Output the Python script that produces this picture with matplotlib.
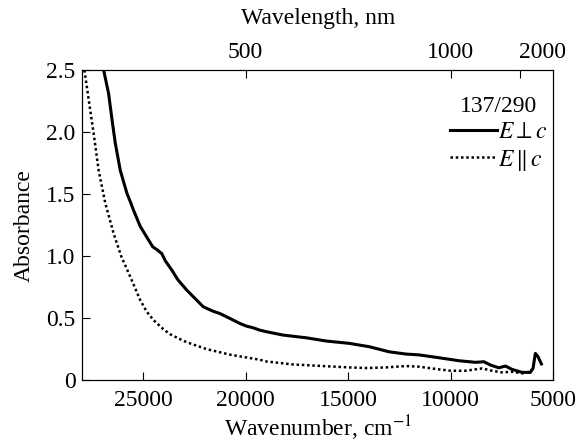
import matplotlib
matplotlib.use("Agg")
import matplotlib.pyplot as plt
from matplotlib.transforms import ScaledTranslation

plt.rcParams['font.family'] = ['Liberation Serif', 'DejaVu Serif']
plt.rcParams['mathtext.fontset'] = 'stix'

# E perpendicular to c (solid)
wn_perp = [26912, 26670, 26505, 26345, 26100, 25777, 25616, 25456, 25130, 24800,
           24520, 24300, 24080, 23900, 23590, 23300, 22865, 22380, 22058, 21575,
           21250, 20760, 20280, 19950, 19630, 19310, 18980, 18175, 17040, 16070,
           14940, 13970, 13000, 12190, 11540, 10570, 9600, 8790, 8385, 8060,
           7660, 7330, 7010, 6525, 6120, 5990, 5875, 5750, 5580]
abs_perp = [2.5, 2.31, 2.10, 1.91, 1.69, 1.506, 1.44, 1.37, 1.24, 1.15,
            1.075, 1.05, 1.02, 0.96, 0.887, 0.81, 0.726, 0.645, 0.591, 0.555,
            0.537, 0.497, 0.457, 0.435, 0.422, 0.403, 0.39, 0.363, 0.341, 0.315,
            0.296, 0.269, 0.228, 0.21, 0.203, 0.18, 0.156, 0.143, 0.148, 0.121,
            0.099, 0.113, 0.086, 0.062, 0.062, 0.094, 0.215, 0.19, 0.13]

# E parallel to c (dotted)
wn_par = [27850, 27640, 27400, 27155, 26830, 26427, 26060, 25616, 25130, 24806,
          24485, 24000, 23675, 23190, 22865, 21900, 20760, 19310, 18980, 17690,
          16230, 14940, 14130, 13160, 12190, 11540, 10570, 10000, 9270, 8470,
          7980, 7500, 7010, 6525, 6120, 6040]
abs_par = [2.5, 2.26, 1.99, 1.69, 1.425, 1.183, 1.0, 0.833, 0.645, 0.55,
           0.484, 0.41, 0.37, 0.33, 0.305, 0.25, 0.205, 0.164, 0.15, 0.126,
           0.113, 0.102, 0.097, 0.102, 0.113, 0.108, 0.086, 0.075, 0.075, 0.094,
           0.075, 0.062, 0.067, 0.054, 0.067, 0.086]

x_ticks = [25000, 20000, 15000, 10000, 5000]
y_ticks = [0, 0.5, 1.0, 1.5, 2.0, 2.5]
y_labels = ['0', '0.5', '1.0', '1.5', '2.0', '2.5']
top_ticks = [20000, 10000, 6640]
top_labels = ['500', '1000', '2000']

fig = plt.figure(figsize=(5.8, 4.44), dpi=100)
ax = fig.add_axes([0.142, 0.144, 0.812, 0.698])

ax.plot(wn_perp, abs_perp, color='black', lw=2.2, label=r'$E\perp c$')
ax.plot(wn_par, abs_par, color='black', lw=1.8, linestyle=(0, (1, 1.1)),
        label=r'$E\,\Vert\,c$')

ax.set_xlim(27950, 5000)
ax.set_ylim(0, 2.5)
ax.set_xticks(x_ticks)
ax.set_yticks(y_ticks)
ax.set_yticklabels(y_labels)
ax.tick_params(direction='in', length=6, width=0.8, labelsize=17, top=False, right=False)
ax.tick_params(axis='x', pad=7)
ax.tick_params(axis='y', pad=5)
ax.set_xlabel('Wavenumber, cm$^{-1}$', fontsize=17, labelpad=2)
ax.set_ylabel('Absorbance', fontsize=17, labelpad=8)

ax2 = ax.twiny()
ax2.set_xlim(ax.get_xlim())
ax2.set_xticks(top_ticks)
ax2.set_xticklabels(top_labels)
ax2.tick_params(direction='in', length=6, width=0.8, labelsize=17, pad=5)
ax2.set_xlabel('Wavelength, nm', fontsize=17, labelpad=13)
lab = ax2.get_xticklabels()[-1]
lab.set_transform(lab.get_transform() + ScaledTranslation(0.23, 0, fig.dpi_scale_trans))

leg = ax.legend(loc='upper right', bbox_to_anchor=(0.988, 0.918), frameon=False,
                fontsize=17, title='137/290', title_fontsize=17,
                handlelength=2.0, handletextpad=0.05, labelspacing=0.2,
                borderpad=0, borderaxespad=0)

fig.savefig('out.png', dpi=100)
